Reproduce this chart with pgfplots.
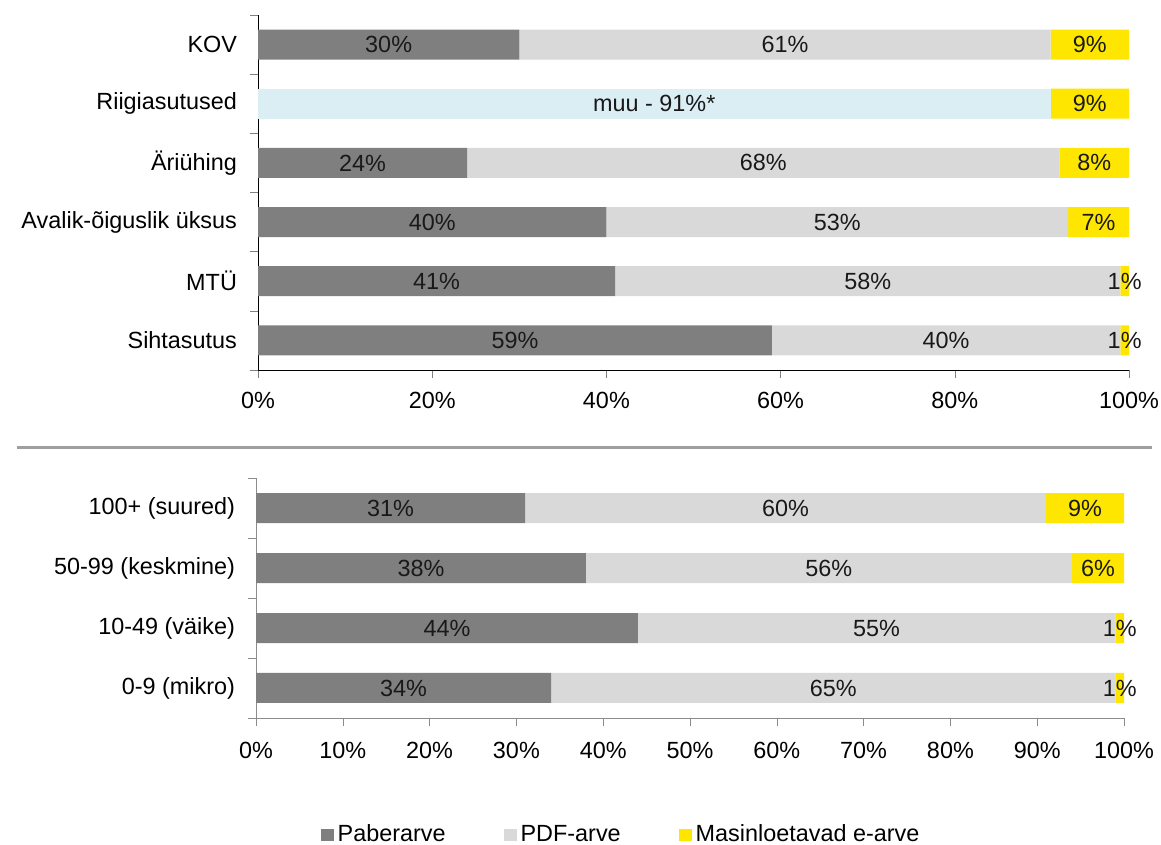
\documentclass[border=0pt]{standalone}
\usepackage{pgfplots}
\pgfplotsset{compat=1.18}
\usepackage{fontspec}
\setmainfont{Liberation Sans}

\definecolor{cPaber}{HTML}{7F7F7F}
\definecolor{cPdf}{HTML}{D9D9D9}
\definecolor{cMuu}{HTML}{DAEEF3}
\definecolor{cE}{HTML}{FFE600}
\definecolor{axgray}{HTML}{8C8C8C}

\newcommand\chfont{\fontsize{11.7}{14}\selectfont}

\pgfplotsset{
  common/.style={
    xbar stacked, scale only axis, bar width=15pt,
    xmin=0, xmax=100,
    axis lines*=left, tick align=outside, major tick length=4pt,
    y tick label as interval,
    y tick label style={xshift=-3pt},
    nodes near coords,
    point meta=explicit symbolic,
    every node near coord/.append style={text=black!90, font=\chfont},
    clip=false,
  },
}

\begin{document}
\begin{tikzpicture}[font=\chfont]
\useasboundingbox (0,0) rectangle (580.5pt,422.5pt);

% upper chart: by type of organisation
\begin{axis}[common, at={(129pt,237.5pt)}, anchor=south west,
  width=435.5pt, height=177.5pt,
  ymin=-0.5, ymax=5.5,
  ytick={-0.5,0.5,...,5.5},
  yticklabels={Sihtasutus,MTÜ,Avalik-õiguslik üksus,Äriühing,Riigiasutused,KOV},
  xtick={0,20,...,100},
  xticklabels={0\%,20\%,40\%,60\%,80\%,100\%},
  x tick label style={yshift=-3.5pt},
]
\addplot[fill=cPaber, draw=none] coordinates {(59,0)[59\%] (41,1)[41\%] (40,2)[40\%] (24,3)[24\%] (0,4)[] (30,5)[30\%]};
\addplot[fill=cPdf, draw=none] coordinates {(40,0)[40\%] (58,1)[58\%] (53,2)[53\%] (68,3)[68\%] (0,4)[] (61,5)[61\%]};
\addplot[fill=cMuu, draw=none] coordinates {(0,0)[] (0,1)[] (0,2)[] (0,3)[] (91,4)[muu - 91\%*] (0,5)[]};
\addplot[fill=cE, draw=none] coordinates {(1,0)[1\%] (1,1)[1\%] (7,2)[7\%] (8,3)[8\%] (9,4)[9\%] (9,5)[9\%]};
\end{axis}

\draw[line width=1.5pt, color=gray!75] (8.5pt,198.5pt) -- (576pt,198.5pt);

% lower chart: by company size
\begin{axis}[common, at={(128pt,63.5pt)}, anchor=south west,
  width=434pt, height=120pt,
  ymin=-0.5, ymax=3.5,
  ytick={-0.5,0.5,...,3.5},
  yticklabels={0-9 (mikro),10-49 (väike),50-99 (keskmine),100+ (suured)},
  xtick={0,10,...,100},
  xticklabels={0\%,10\%,20\%,30\%,40\%,50\%,60\%,70\%,80\%,90\%,100\%},
  x tick label style={yshift=-4.5pt},
  axis line style={axgray}, tick style={axgray},
  legend columns=3,
  legend style={at={(axis description cs:0.4217,-0.4875)}, anchor=center,
    draw=none, fill=none, font=\chfont,
    /tikz/every even column/.append style={column sep=27pt}},
  legend image code/.code={\fill[#1] (0pt,-3.2pt) rectangle (6.5pt,3.2pt);},
]
\addplot[fill=cPaber, draw=none] coordinates {(34,0)[34\%] (44,1)[44\%] (38,2)[38\%] (31,3)[31\%]};
\addplot[fill=cPdf, draw=none] coordinates {(65,0)[65\%] (55,1)[55\%] (56,2)[56\%] (60,3)[60\%]};
\addplot[fill=cE, draw=none] coordinates {(1,0)[1\%] (1,1)[1\%] (6,2)[6\%] (9,3)[9\%]};
\legend{Paberarve,PDF-arve,Masinloetavad e-arve}
\end{axis}
\end{tikzpicture}
\end{document}
